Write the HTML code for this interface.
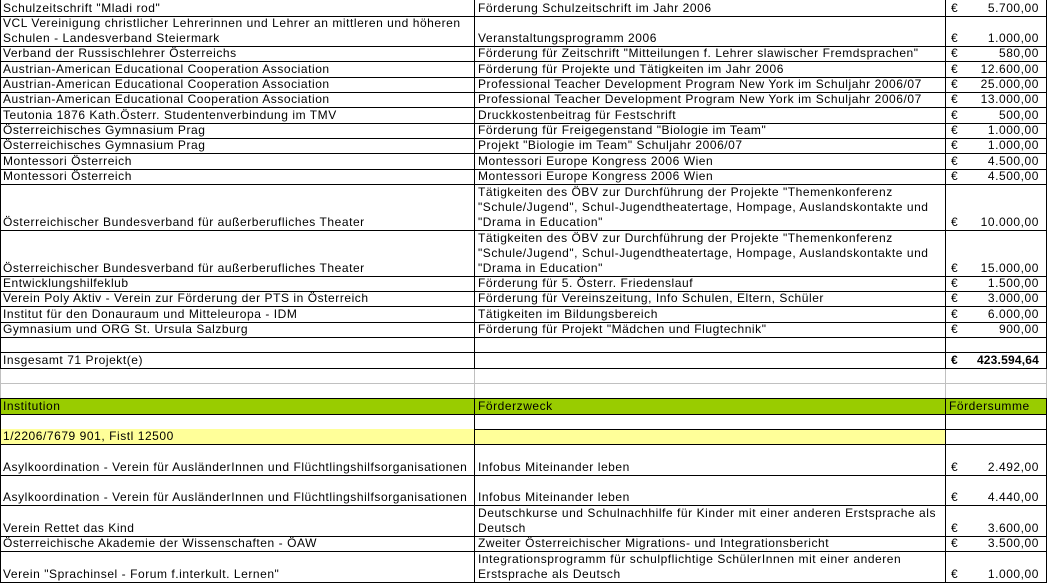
<!DOCTYPE html>
<html><head><meta charset="utf-8"><style>
body{margin:0;width:1048px;height:584px;overflow:hidden;background:#fff;font-family:"Liberation Sans",Arial,sans-serif;font-size:12px;letter-spacing:0.55px;color:#000;position:relative}
.r{position:absolute;left:0;width:1047px;display:flex;align-items:flex-end;border-bottom:1px solid #000;box-sizing:border-box}
.c1,.c2,.c3{line-height:15px;white-space:nowrap;box-sizing:border-box;padding-left:3px}
.c1{width:474px}.c2{width:471px;padding-left:4px}.c3{width:101px;position:relative;height:15px}
.c3 .e{position:absolute;left:6px;bottom:0}.c3 .a{position:absolute;right:7px;bottom:0}
.v{position:absolute;top:0;width:1px;height:583px;background:#000}
.g{position:absolute;width:1px;background:#c0c0c0}
</style></head><body>
<div class="r" style="top:0;height:17px"><div class="c1">Schulzeitschrift "Mladi rod"</div><div class="c2">Förderung Schulzeitschrift im Jahr 2006</div><div class="c3"><span class="e">€</span><span class="a">5.700,00</span></div></div>
<div class="r" style="top:17px;height:30px"><div class="c1">VCL Vereinigung christlicher Lehrerinnen und Lehrer an mittleren und höheren<br>Schulen - Landesverband Steiermark</div><div class="c2">Veranstaltungsprogramm 2006</div><div class="c3"><span class="e">€</span><span class="a">1.000,00</span></div></div>
<div class="r" style="top:47px;height:15px"><div class="c1">Verband der Russischlehrer Österreichs</div><div class="c2">Förderung für Zeitschrift "Mitteilungen f. Lehrer slawischer Fremdsprachen"</div><div class="c3"><span class="e">€</span><span class="a">580,00</span></div></div>
<div class="r" style="top:62px;height:16px"><div class="c1">Austrian-American Educational Cooperation Association</div><div class="c2">Förderung für Projekte und Tätigkeiten im Jahr 2006</div><div class="c3"><span class="e">€</span><span class="a">12.600,00</span></div></div>
<div class="r" style="top:78px;height:15px"><div class="c1">Austrian-American Educational Cooperation Association</div><div class="c2">Professional Teacher Development Program New York im Schuljahr 2006/07</div><div class="c3"><span class="e">€</span><span class="a">25.000,00</span></div></div>
<div class="r" style="top:93px;height:15px"><div class="c1">Austrian-American Educational Cooperation Association</div><div class="c2">Professional Teacher Development Program New York im Schuljahr 2006/07</div><div class="c3"><span class="e">€</span><span class="a">13.000,00</span></div></div>
<div class="r" style="top:108px;height:16px"><div class="c1">Teutonia 1876 Kath.Österr. Studentenverbindung im TMV</div><div class="c2">Druckkostenbeitrag für Festschrift</div><div class="c3"><span class="e">€</span><span class="a">500,00</span></div></div>
<div class="r" style="top:124px;height:15px"><div class="c1">Österreichisches Gymnasium Prag</div><div class="c2">Förderung für Freigegenstand "Biologie im Team"</div><div class="c3"><span class="e">€</span><span class="a">1.000,00</span></div></div>
<div class="r" style="top:139px;height:15px"><div class="c1">Österreichisches Gymnasium Prag</div><div class="c2">Projekt "Biologie im Team" Schuljahr 2006/07</div><div class="c3"><span class="e">€</span><span class="a">1.000,00</span></div></div>
<div class="r" style="top:154px;height:16px"><div class="c1">Montessori Österreich</div><div class="c2">Montessori Europe Kongress 2006 Wien</div><div class="c3"><span class="e">€</span><span class="a">4.500,00</span></div></div>
<div class="r" style="top:170px;height:15px"><div class="c1">Montessori Österreich</div><div class="c2">Montessori Europe Kongress 2006 Wien</div><div class="c3"><span class="e">€</span><span class="a">4.500,00</span></div></div>
<div class="r" style="top:185px;height:46px"><div class="c1">Österreichischer Bundesverband für außerberufliches Theater</div><div class="c2">Tätigkeiten des ÖBV zur Durchführung der Projekte "Themenkonferenz<br>"Schule/Jugend", Schul-Jugendtheatertage, Hompage, Auslandskontakte und<br>"Drama in Education"</div><div class="c3"><span class="e">€</span><span class="a">10.000,00</span></div></div>
<div class="r" style="top:231px;height:46px"><div class="c1">Österreichischer Bundesverband für außerberufliches Theater</div><div class="c2">Tätigkeiten des ÖBV zur Durchführung der Projekte "Themenkonferenz<br>"Schule/Jugend", Schul-Jugendtheatertage, Hompage, Auslandskontakte und<br>"Drama in Education"</div><div class="c3"><span class="e">€</span><span class="a">15.000,00</span></div></div>
<div class="r" style="top:277px;height:15px"><div class="c1">Entwicklungshilfeklub</div><div class="c2">Förderung für 5. Österr. Friedenslauf</div><div class="c3"><span class="e">€</span><span class="a">1.500,00</span></div></div>
<div class="r" style="top:292px;height:15px"><div class="c1">Verein Poly Aktiv - Verein zur Förderung der PTS in Österreich</div><div class="c2">Förderung für Vereinszeitung, Info Schulen, Eltern, Schüler</div><div class="c3"><span class="e">€</span><span class="a">3.000,00</span></div></div>
<div class="r" style="top:307px;height:16px"><div class="c1">Institut für den Donauraum und Mitteleuropa - IDM</div><div class="c2">Tätigkeiten im Bildungsbereich</div><div class="c3"><span class="e">€</span><span class="a">6.000,00</span></div></div>
<div class="r" style="top:323px;height:15px"><div class="c1">Gymnasium und ORG St. Ursula Salzburg</div><div class="c2">Förderung für Projekt "Mädchen und Flugtechnik"</div><div class="c3"><span class="e">€</span><span class="a">900,00</span></div></div>
<div class="r" style="top:338px;height:15px"></div>
<div class="r" style="top:353px;height:16px"><div class="c1">Insgesamt 71 Projekt(e)</div><div class="c2"></div><div class="c3" style="font-weight:bold;letter-spacing:0.2px"><span class="e">€</span><span class="a">423.594,64</span></div></div>
<div class="r" style="top:369px;height:15px;border-bottom-color:#c0c0c0"></div>
<div class="r" style="top:384px;height:15px"></div>
<div class="r" style="top:399px;height:16px;background:#99cc00"><div class="c1">Institution</div><div class="c2">Förderzweck</div><div class="c3"><span class="e" style="left:4px">Fördersumme</span></div></div>
<div class="r" style="top:415px;height:15px"></div>
<div class="r" style="top:430px;height:15px"><div class="c1" style="background:#ffff99">1/2206/7679 901, Fistl 12500</div><div class="c2" style="background:#ffff99;height:14px"></div></div>
<div class="r" style="top:445px;height:31px"><div class="c1">Asylkoordination - Verein für AusländerInnen und Flüchtlingshilfsorganisationen</div><div class="c2">Infobus Miteinander leben</div><div class="c3"><span class="e">€</span><span class="a">2.492,00</span></div></div>
<div class="r" style="top:476px;height:30px"><div class="c1">Asylkoordination - Verein für AusländerInnen und Flüchtlingshilfsorganisationen</div><div class="c2">Infobus Miteinander leben</div><div class="c3"><span class="e">€</span><span class="a">4.440,00</span></div></div>
<div class="r" style="top:506px;height:31px"><div class="c1">Verein Rettet das Kind</div><div class="c2">Deutschkurse und Schulnachhilfe für Kinder mit einer anderen Erstsprache als<br>Deutsch</div><div class="c3"><span class="e">€</span><span class="a">3.600,00</span></div></div>
<div class="r" style="top:537px;height:15px"><div class="c1">Österreichische Akademie der Wissenschaften - ÖAW</div><div class="c2">Zweiter Österreichischer Migrations- und Integrationsbericht</div><div class="c3"><span class="e">€</span><span class="a">3.500,00</span></div></div>
<div class="r" style="top:552px;height:31px"><div class="c1">Verein "Sprachinsel - Forum f.interkult. Lernen"</div><div class="c2">Integrationsprogramm für schulpflichtige SchülerInnen mit einer anderen<br>Erstsprache als Deutsch</div><div class="c3"><span class="e">€</span><span class="a">1.000,00</span></div></div>
<div class="v" style="left:0"></div><div class="v" style="left:474px"></div><div class="v" style="left:945px"></div><div class="v" style="left:1046px"></div>
<div class="g" style="left:0;top:369px;height:29px"></div><div class="g" style="left:474px;top:369px;height:29px"></div><div class="g" style="left:945px;top:369px;height:29px"></div><div class="g" style="left:1046px;top:369px;height:29px"></div>
</body></html>
